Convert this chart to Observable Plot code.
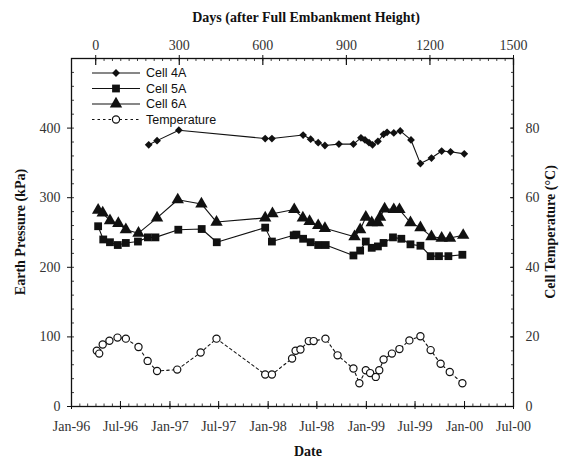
<!DOCTYPE html>
<html>
<head>
<meta charset="utf-8">
<script src="https://cdn.jsdelivr.net/npm/d3@7"></script>
<script src="https://cdn.jsdelivr.net/npm/@observablehq/plot@0.6"></script>
<style>
  html, body { margin: 0; padding: 0; background: #fff; }
  #wrap { position: relative; width: 565px; height: 461px; background: #fff; }
  .ttl { position: absolute; font-family: "Liberation Serif", "Times New Roman", serif; font-weight: bold; font-size: 14px; color: #111; white-space: nowrap; transform: translate(-50%, -50%); }
  .rot { transform: translate(-50%, -50%) rotate(-90deg); }
  #legend { position: absolute; left: 88px; top: 64px; }
</style>
</head>
<body>
<div id="wrap"></div>
<script>
// ---------------- data ----------------
const cell4ADates = ["1996-10-14","1996-11-14","1997-02-03","1997-12-21","1998-01-15","1998-05-11","1998-06-08","1998-07-06","1998-07-31","1998-09-21","1998-11-14","1998-12-12","1998-12-27","1999-01-11","1999-01-24","1999-02-13","1999-03-06","1999-03-19","1999-04-13","1999-05-07","1999-06-16","1999-07-21","1999-08-31","1999-10-08","1999-11-10","1999-12-31"];
const cell4A = [376,382,397,385,385,390,384,379,375,377,377,386,383,379,376,381,391,394,393,396,383,349,357,367,366,363];

const cell5ADates = ["1996-04-09","1996-04-28","1996-05-23","1996-06-21","1996-07-21","1996-09-04","1996-10-11","1996-11-08","1997-02-01","1997-04-29","1997-06-24","1997-12-21","1998-01-15","1998-04-06","1998-04-16","1998-05-11","1998-06-08","1998-07-06","1998-08-03","1998-11-14","1998-12-09","1998-12-30","1999-01-21","1999-02-13","1999-03-06","1999-04-10","1999-05-11","1999-06-14","1999-07-21","1999-08-28","1999-09-28","1999-11-02","1999-12-24"];
const cell5A = [259,240,236,232,235,237,243,243,254,255,236,257,237,246,247,241,236,232,232,217,224,237,228,230,235,243,241,233,231,216,216,216,218];

const cell6ADates = ["1996-04-09","1996-04-26","1996-05-23","1996-06-23","1996-07-21","1996-09-06","1996-11-14","1997-01-30","1997-04-28","1997-06-23","1997-12-21","1998-01-17","1998-04-08","1998-05-10","1998-06-04","1998-07-06","1998-07-31","1998-11-18","1998-12-09","1998-12-30","1999-01-21","1999-02-13","1999-02-21","1999-03-10","1999-04-13","1999-05-04","1999-06-14","1999-07-21","1999-08-31","1999-10-08","1999-11-08","1999-12-27"];
const cell6A = [282,278,267,263,254,249,271,297,291,265,271,277,283,271,266,260,256,244,254,272,264,264,272,284,283,283,264,257,244,242,242,246];

const tempDates = ["1996-04-04","1996-04-13","1996-04-26","1996-05-21","1996-06-20","1996-07-21","1996-09-06","1996-10-10","1996-11-14","1997-01-28","1997-04-25","1997-06-23","1997-12-21","1998-01-15","1998-03-31","1998-04-13","1998-05-01","1998-06-01","1998-06-19","1998-08-02","1998-09-16","1998-11-14","1998-12-06","1998-12-30","1999-01-15","1999-02-05","1999-02-18","1999-03-06","1999-04-06","1999-05-04","1999-06-10","1999-07-21","1999-08-28","1999-10-04","1999-11-07","1999-12-24"];
const temperature = [16.0,15.2,17.8,18.9,19.8,19.5,17.1,13.1,10.2,10.6,15.5,19.5,9.2,9.2,13.8,16.0,16.4,18.8,18.8,19.5,14.7,10.9,6.7,10.4,9.6,8.5,10.4,13.5,15.2,16.5,19.0,20.2,16.2,12.3,9.9,6.7];

// axes
const dateDomain = ["1996-01-01", "2000-07-01"];
const pressureDomain = [0, 500];
const pressureTicks = [0, 100, 200, 300, 400];
const tempTicks = [0, 20, 40, 60, 80];
const tempMax = 100;              // right axis spans 0..100 °C
const topDays = [0, 300, 600, 900, 1200, 1500];
const dayZeroDate = "1996-03-31";  // day 0 on the top axis
const dayEndDate = "2000-07-01";   // day 1500 on the top axis
const seriesNames = ["Cell 4A", "Cell 5A", "Cell 6A", "Temperature"];

// ---------------- build ----------------
const P = d => new Date(d + "T00:00:00Z");
const mk = (dates, vals) => dates.map((d, i) => ({date: P(d), v: vals[i]}));
const d4 = mk(cell4ADates, cell4A);
const d5 = mk(cell5ADates, cell5A);
const d6 = mk(cell6ADates, cell6A);
const tScale = pressureDomain[1] / tempMax;
const dT = mk(tempDates, temperature).map(d => ({date: d.date, v: d.v * tScale}));

const x0 = P(dateDomain[0]), x1 = P(dateDomain[1]);
const halfYears = d3.utcMonth.every(6).range(x0, d3.utcDay.offset(x1, 1));
const months = d3.utcMonth.range(x0, d3.utcDay.offset(x1, 1));
const fmt = d3.utcFormat("%b-%y");

const D0 = P(dayZeroDate), D1 = P(dayEndDate);
const dayToDate = d => new Date(+D0 + (d / 1500) * (D1 - D0));
const topTickDates = topDays.map(dayToDate);
const topLabel = new Map(topTickDates.map((d, i) => [+d, String(topDays[i])]));
const topMinor = d3.range(0, 1501, 30).map(dayToDate);
const leftMinor = d3.range(0, 501, 20);

const serif = "Liberation Serif, Times New Roman, serif";
const tickColor = "#333";

const chart = Plot.plot({
  width: 565, height: 461,
  marginLeft: 71, marginRight: 52, marginTop: 58, marginBottom: 55,
  x: {type: "utc", domain: [x0, x1]},
  y: {domain: pressureDomain},
  style: {fontFamily: serif, fontSize: "14px", background: "#fff", color: "#111"},
  marks: [
    // bottom axis
    Plot.axisX({anchor: "bottom", ticks: halfYears, tickFormat: fmt, tickSize: 3, tickPadding: 12, label: null, fill: tickColor, fontSize: 14}),
    Plot.axisX({anchor: "bottom", ticks: halfYears, tickSize: -5, fill: "none", label: null}),
    Plot.axisX({anchor: "bottom", ticks: months, tickSize: -2.5, fill: "none", label: null, strokeWidth: 0.8}),
    // top axis (days)
    Plot.axisX({anchor: "top", ticks: topTickDates, tickFormat: d => topLabel.get(+d), tickSize: 4, tickPadding: 5, label: null, fill: tickColor, fontSize: 14}),
    Plot.axisX({anchor: "top", ticks: topTickDates, tickSize: -6, fill: "none", label: null, strokeWidth: 1.2}),
    Plot.axisX({anchor: "top", ticks: topMinor, tickSize: -2, fill: "none", label: null, strokeWidth: 0.8}),
    // left axis
    Plot.axisY({anchor: "left", ticks: pressureTicks, tickSize: 4, tickPadding: 7, label: null, fill: tickColor, fontSize: 14}),
    Plot.axisY({anchor: "left", ticks: leftMinor, tickSize: -3, fill: "none", label: null, strokeWidth: 0.8}),
    // right axis (temperature)
    Plot.axisY({anchor: "right", ticks: tempTicks.map(t => t * tScale), tickFormat: d => String(d / tScale), tickSize: -4, tickPadding: 16, label: null, fill: tickColor, fontSize: 14}),
    Plot.axisY({anchor: "right", ticks: leftMinor, tickSize: -3, fill: "none", label: null, strokeWidth: 0.8}),
    Plot.frame({stroke: "#111", strokeWidth: 1.3}),
    // temperature
    Plot.line(dT, {x: "date", y: "v", stroke: "#111", strokeWidth: 1.1, strokeDasharray: "2.5,3"}),
    Plot.dot(dT, {x: "date", y: "v", r: 3.6, stroke: "#111", strokeWidth: 1.2, fill: "white"}),
    // cells
    Plot.line(d6, {x: "date", y: "v", stroke: "#111", strokeWidth: 1.1}),
    Plot.dot(d6, {x: "date", y: "v", symbol: "triangle", r: 4.6, fill: "#111", stroke: "none"}),
    Plot.line(d5, {x: "date", y: "v", stroke: "#111", strokeWidth: 1.1}),
    Plot.dot(d5, {x: "date", y: "v", symbol: "square", r: 4.4, fill: "#111", stroke: "none"}),
    Plot.line(d4, {x: "date", y: "v", stroke: "#111", strokeWidth: 1.1}),
    Plot.dot(d4, {x: "date", y: "v", symbol: "diamond2", r: 3.5, fill: "#111", stroke: "none"})
  ]
});

const wrap = document.getElementById("wrap");
wrap.appendChild(chart);

function addTitle(text, left, top, rotate) {
  const el = document.createElement("div");
  el.className = "ttl" + (rotate ? " rot" : "");
  el.style.left = left + "px";
  el.style.top = top + "px";
  el.textContent = text;
  wrap.appendChild(el);
}
addTitle("Days (after Full Embankment Height)", 306, 18, false);
addTitle("Date", 308, 452, false);
addTitle("Earth Pressure (kPa)", 21, 232, true);
addTitle("Cell Temperature (°C)", 551, 232, true);

// legend
const ns = "http://www.w3.org/2000/svg";
const lg = document.createElementNS(ns, "svg");
lg.setAttribute("id", "legend");
lg.setAttribute("width", 140);
lg.setAttribute("height", 64);
const rows = [
  {name: seriesNames[0], sym: "diamond", dash: null},
  {name: seriesNames[1], sym: "square", dash: null},
  {name: seriesNames[2], sym: "triangle", dash: null},
  {name: seriesNames[3], sym: "circle", dash: "2.5,3"}
];
const symGen = {diamond: d3.symbolDiamond2 || d3.symbolDiamond, square: d3.symbolSquare, triangle: d3.symbolTriangle, circle: d3.symbolCircle};
const symSize = {diamond: 3.5, square: 4.4, triangle: 4.6, circle: 3.6};
rows.forEach((r, i) => {
  const y = 9 + i * 15.5;
  const ln = document.createElementNS(ns, "line");
  ln.setAttribute("x1", 4); ln.setAttribute("x2", 52);
  ln.setAttribute("y1", y); ln.setAttribute("y2", y);
  ln.setAttribute("stroke", "#111"); ln.setAttribute("stroke-width", 1.1);
  if (r.dash) ln.setAttribute("stroke-dasharray", r.dash);
  lg.appendChild(ln);
  const p = document.createElementNS(ns, "path");
  const rr = symSize[r.sym];
  p.setAttribute("d", d3.symbol(symGen[r.sym], Math.PI * rr * rr)());
  p.setAttribute("transform", `translate(28,${y})`);
  if (r.sym === "circle") { p.setAttribute("fill", "white"); p.setAttribute("stroke", "#111"); p.setAttribute("stroke-width", 1.2); }
  else p.setAttribute("fill", "#111");
  lg.appendChild(p);
  const t = document.createElementNS(ns, "text");
  t.setAttribute("x", 58); t.setAttribute("y", y);
  t.setAttribute("dy", "0.35em");
  t.setAttribute("font-family", "Liberation Sans, Arial, sans-serif");
  t.setAttribute("font-size", 12.5);
  t.setAttribute("fill", "#111");
  t.textContent = r.name;
  lg.appendChild(t);
});
wrap.appendChild(lg);
</script>
</body>
</html>
